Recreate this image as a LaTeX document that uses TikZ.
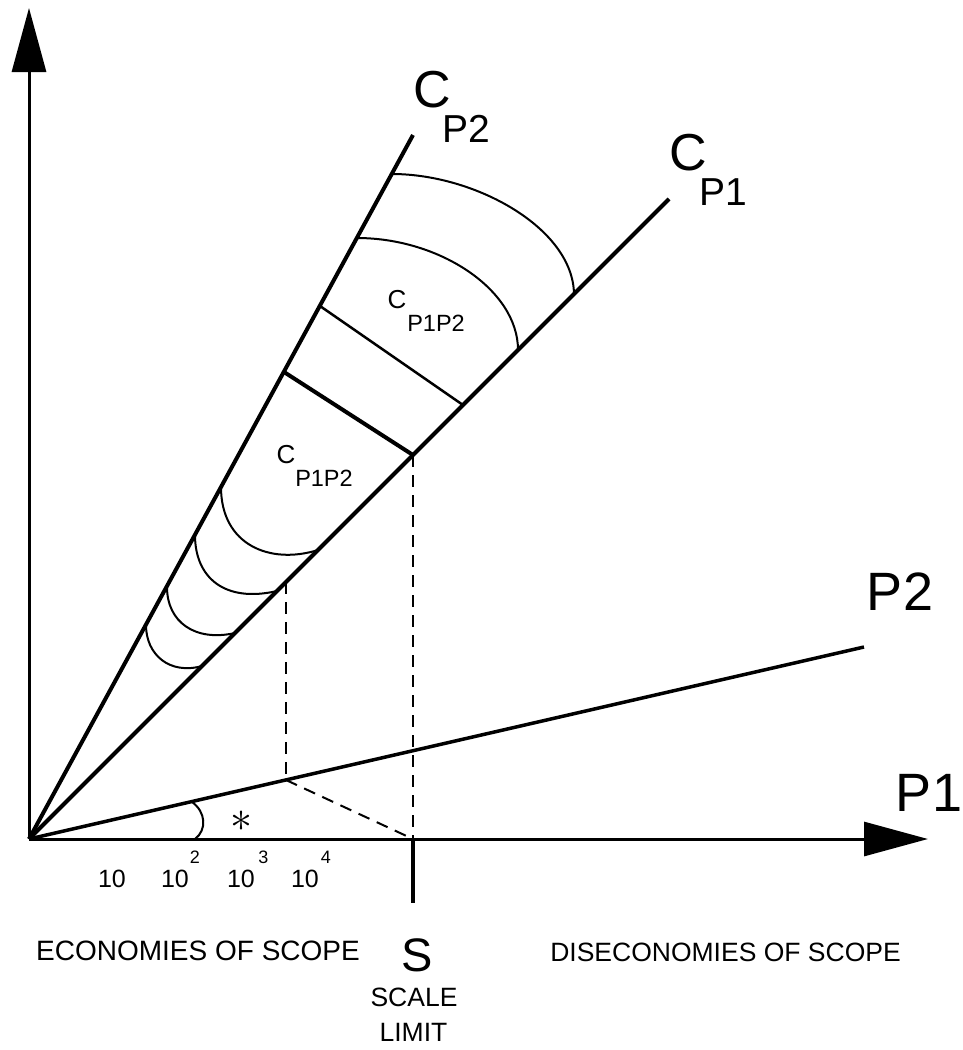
\documentclass[tikz,border=0pt]{standalone}
\usepackage{fontspec}
\setmainfont{Liberation Sans}
\usetikzlibrary{arrows.meta}
\newcommand{\myfs}[1]{\fontsize{#1}{#1}\selectfont}
\begin{document}
\begin{tikzpicture}[x=1pt,y=-1pt,
  axisline/.style={line width=3pt,-{Triangle[length=64pt,width=34pt]}},
  rayline/.style={line width=4pt},
  thinline/.style={line width=2pt},
  dashline/.style={line width=2pt,dash pattern=on 12pt off 8pt},
  lbl/.style={inner sep=0pt}]
\useasboundingbox (0,0) rectangle (963,1050);
% axes
\coordinate (O) at (29,839);
\coordinate (Ytip) at (29,8);
\coordinate (Xtip) at (928,839);
\draw[axisline] (O) -- (Ytip);
\draw[axisline] (O) -- (Xtip);
% rays
\coordinate (CPtwoEnd) at (413,135);
\coordinate (CPoneEnd) at (669,199);
\coordinate (PtwoEnd) at (864,647);
\draw[rayline] (O) -- (CPtwoEnd);
\draw[rayline] (O) -- (CPoneEnd);
\draw[line width=3.5pt] (O) -- (PtwoEnd);
% cross segments
\coordinate (T1) at (284,372);
\coordinate (T2) at (413,455);
\coordinate (U1) at (320,306);
\coordinate (U2) at (463,405);
\draw[line width=4pt] (T1) -- (T2);
\draw[line width=2.5pt] (U1) -- (U2);
% upper arcs
\coordinate (A1) at (392,174);
\coordinate (A2) at (574,294);
\draw[thinline] (A1) .. controls (475,174) and (573,228) .. (A2);
\coordinate (B1) at (357,238);
\coordinate (B2) at (518,350);
\draw[thinline] (B1) .. controls (440,238) and (518,290) .. (B2);
% lower arcs
\coordinate (E1) at (221,487);
\coordinate (E2) at (318,550);
\draw[thinline] (E1) .. controls (221,545) and (270,565) .. (E2);
\coordinate (F1) at (195,535);
\coordinate (F2) at (277,591);
\draw[thinline] (F1) .. controls (195,578) and (225,603) .. (F2);
\coordinate (G1) at (167,587);
\coordinate (G2) at (235,633);
\draw[thinline] (G1) .. controls (167,622) and (195,642) .. (G2);
\coordinate (H1) at (146,625);
\coordinate (H2) at (202,666);
\draw[thinline] (H1) .. controls (146,655) and (170,675) .. (H2);
% angle arc
\coordinate (K1) at (192,802);
\coordinate (K2) at (195,839);
\draw[thinline] (K1) .. controls (206,812) and (207,830) .. (K2);
\node[lbl,scale=4.4] (star) at (241,821) {$\ast$};
% dashed lines and scale limit
\coordinate (D1a) at (286,582);
\coordinate (D1b) at (286,780);
\coordinate (Sx) at (413,839);
\coordinate (Sbot) at (413,903);
\draw[dashline] (D1a) -- (D1b);
\draw[dashline] (D1b) -- (Sx);
\draw[dashline] (T2) -- (Sx);
\draw[line width=4pt] (Sx) -- (Sbot);
% labels
\node[lbl,font=\myfs{52}] (cptwoC) at (432,90) {C};
\node[lbl,font=\myfs{39}] (cptwoS) at (466,129) {P2};
\node[lbl,font=\myfs{52}] (cponeC) at (688,153) {C};
\node[lbl,font=\myfs{39}] (cponeS) at (723,192) {P1};
\node[lbl,font=\myfs{54}] (ptwoL) at (900,592) {P2};
\node[lbl,font=\myfs{54}] (poneL) at (929,793) {P1};
\node[lbl,font=\myfs{26}] (caC) at (397,300) {C};
\node[lbl,font=\myfs{23.5}] (caS) at (436,323) {P1P2};
\node[lbl,font=\myfs{26}] (cbC) at (286,455) {C};
\node[lbl,font=\myfs{23.5}] (cbS) at (324,478) {P1P2};
\node[lbl,font=\myfs{25}] (ten1) at (112,879) {10};
\node[lbl,font=\myfs{25}] (ten2) at (175,879) {10};
\node[lbl,font=\myfs{25}] (ten3) at (241,879) {10};
\node[lbl,font=\myfs{25}] (ten4) at (305,879) {10};
\node[lbl,font=\myfs{18}] (sup2) at (195,857.5) {2};
\node[lbl,font=\myfs{18}] (sup3) at (263.5,857.5) {3};
\node[lbl,font=\myfs{18}] (sup4) at (326,857.5) {4};
\node[lbl,font=\myfs{28}] (eco) at (198,951) {ECONOMIES OF SCOPE};
\node[lbl,font=\myfs{47}] (Sl) at (417.5,955.5) {S};
\node[lbl,font=\myfs{26.5}] (scale) at (414,997.5) {SCALE};
\node[lbl,font=\myfs{26.5}] (limit) at (413.5,1032.5) {LIMIT};
\node[lbl,font=\myfs{26.5}] (diseco) at (725.5,952) {DISECONOMIES OF SCOPE};
\end{tikzpicture}
\end{document}
